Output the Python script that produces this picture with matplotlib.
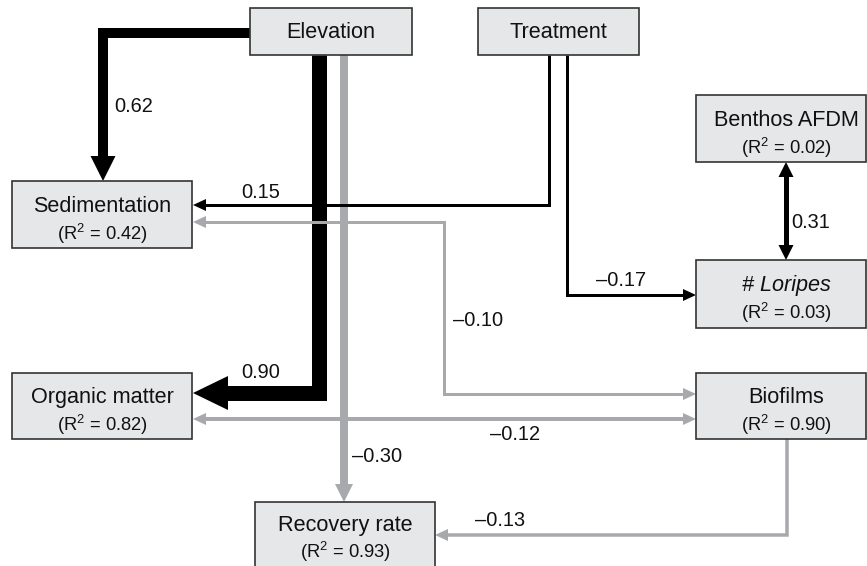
import matplotlib
matplotlib.use("Agg")
import matplotlib.pyplot as plt
from matplotlib.patches import Rectangle, Polygon
import numpy as np

plt.rcParams['font.family'] = ['Liberation Sans', 'DejaVu Sans']
plt.rcParams['mathtext.fontset'] = 'custom'
plt.rcParams['mathtext.rm'] = 'Liberation Sans'
plt.rcParams['mathtext.it'] = 'Liberation Sans:italic'

# ---------------- data ----------------
node_names = ["Elevation", "Treatment", "Benthos AFDM", "Sedimentation",
              "# Loripes", "Organic matter", "Biofilms", "Recovery rate"]
node_r2 = [None, None, 0.02, 0.42, 0.03, 0.82, 0.90, 0.93]

edge_src = ["Elevation", "Elevation", "Elevation", "Treatment", "Treatment",
            "Benthos AFDM", "Sedimentation", "Organic matter", "Biofilms"]
edge_dst = ["Sedimentation", "Organic matter", "Recovery rate", "Sedimentation",
            "# Loripes", "# Loripes", "Biofilms", "Biofilms", "Recovery rate"]
edge_coef = [0.62, 0.90, -0.30, 0.15, -0.17, 0.31, -0.10, -0.12, -0.13]
edge_double = [False, False, False, False, False, True, True, True, False]

# ---------------- layout (pixel space) ----------------
node_box = {
    "Elevation": (250, 8, 412, 55),
    "Treatment": (478, 8, 639, 55),
    "Benthos AFDM": (696, 95, 865.5, 162),
    "Sedimentation": (12, 181, 192, 248),
    "# Loripes": (696, 260, 865.5, 328),
    "Organic matter": (12, 373, 192, 439),
    "Biofilms": (696, 373, 865.5, 439),
    "Recovery rate": (255, 502, 435, 580),
}
node_italic = {"# Loripes": True}
node_center_x = {"Benthos AFDM": 786, "# Loripes": 786, "Biofilms": 786,
                 "Recovery rate": 345}
node_center_y = {"Recovery rate": 533.5}

BLACK = "#000000"
GRAY = "#a7a9ac"

# waypoints, linewidth(px), color, head (length, width) px, label position
edge_path = [
    [(250, 33), (103, 33), (103, 181)],
    [(319, 55), (319, 393), (193, 393)],
    [(344, 55), (344, 502)],
    [(549, 55), (549, 205), (193, 205)],
    [(567, 55), (567, 295), (696, 295)],
    [(786, 162), (786, 260)],
    [(193, 222), (444, 222), (444, 394), (696, 394)],
    [(193, 419), (696, 419)],
    [(787, 439), (787, 535), (435, 535)],
]
edge_lw = [10, 15, 8, 3, 3, 5, 3, 4, 3.5]
edge_color = [BLACK, BLACK, GRAY, BLACK, BLACK, BLACK, GRAY, GRAY, GRAY]
edge_head = [(25, 25), (35, 34), (18, 18), (13, 12), (13, 12), (15, 15),
             (13, 12), (13, 12), (13, 12)]
edge_label_pos = [(134, 107), (261, 373), (377, 456), (261, 193), (621, 280),
                  (811, 222), (478, 321), (515, 435), (500, 521)]

PX2PT = 0.72

fig = plt.figure(figsize=(8.67, 5.66), dpi=100)
ax = fig.add_axes([0, 0, 1, 1])
ax.set_xlim(0, 867)
ax.set_ylim(566, 0)
ax.axis('off')


def head_polygon(tip, prev, L, W, color):
    tip = np.array(tip, float)
    prev = np.array(prev, float)
    d = tip - prev
    d /= np.linalg.norm(d)
    n = np.array([-d[1], d[0]])
    base = tip - d * L
    pts = [tip, base + n * W / 2, base - n * W / 2]
    ax.add_patch(Polygon(pts, closed=True, facecolor=color, edgecolor='none',
                         zorder=2))
    return base + d * 1.0


for i in range(len(edge_coef)):
    pts = [np.array(p, float) for p in edge_path[i]]
    L, W = edge_head[i]
    col = edge_color[i]
    pts[-1] = head_polygon(edge_path[i][-1], edge_path[i][-2], L, W, col)
    if edge_double[i]:
        pts[0] = head_polygon(edge_path[i][0], edge_path[i][1], L, W, col)
    xs = [p[0] for p in pts]
    ys = [p[1] for p in pts]
    ax.plot(xs, ys, color=col, lw=edge_lw[i] * PX2PT,
            solid_joinstyle='miter', solid_capstyle='butt', zorder=1)
    c = edge_coef[i]
    txt = ("\u2013" if c < 0 else "") + f"{abs(c):.2f}"
    lx, ly = edge_label_pos[i]
    ax.text(lx, ly, txt, fontsize=14.4, ha='center', va='center',
            color='#111111', zorder=4)

for name, r2 in zip(node_names, node_r2):
    x0, y0, x1, y1 = node_box[name]
    ax.add_patch(Rectangle((x0, y0), x1 - x0, y1 - y0, facecolor='#e6e7e8',
                           edgecolor='#333333', lw=1.2, zorder=3))
    cx = node_center_x.get(name, (x0 + x1) / 2)
    cy = node_center_y.get(name, (y0 + y1) / 2)
    style = 'italic' if node_italic.get(name) else 'normal'
    if r2 is None:
        ax.text(cx, cy + 7, name, fontsize=15.6, ha='center', va='baseline',
                style=style, color='#111111', zorder=5)
    else:
        ax.text(cx, cy - 3, name, fontsize=15.6, ha='center', va='baseline',
                style=style, color='#111111', zorder=5)
        ax.text(cx, cy + 25, r"(R$^{2}$ = " + f"{r2:.2f})", fontsize=13.2,
                ha='center', va='baseline', color='#111111', zorder=5)

fig.savefig("out.png", dpi=100)
